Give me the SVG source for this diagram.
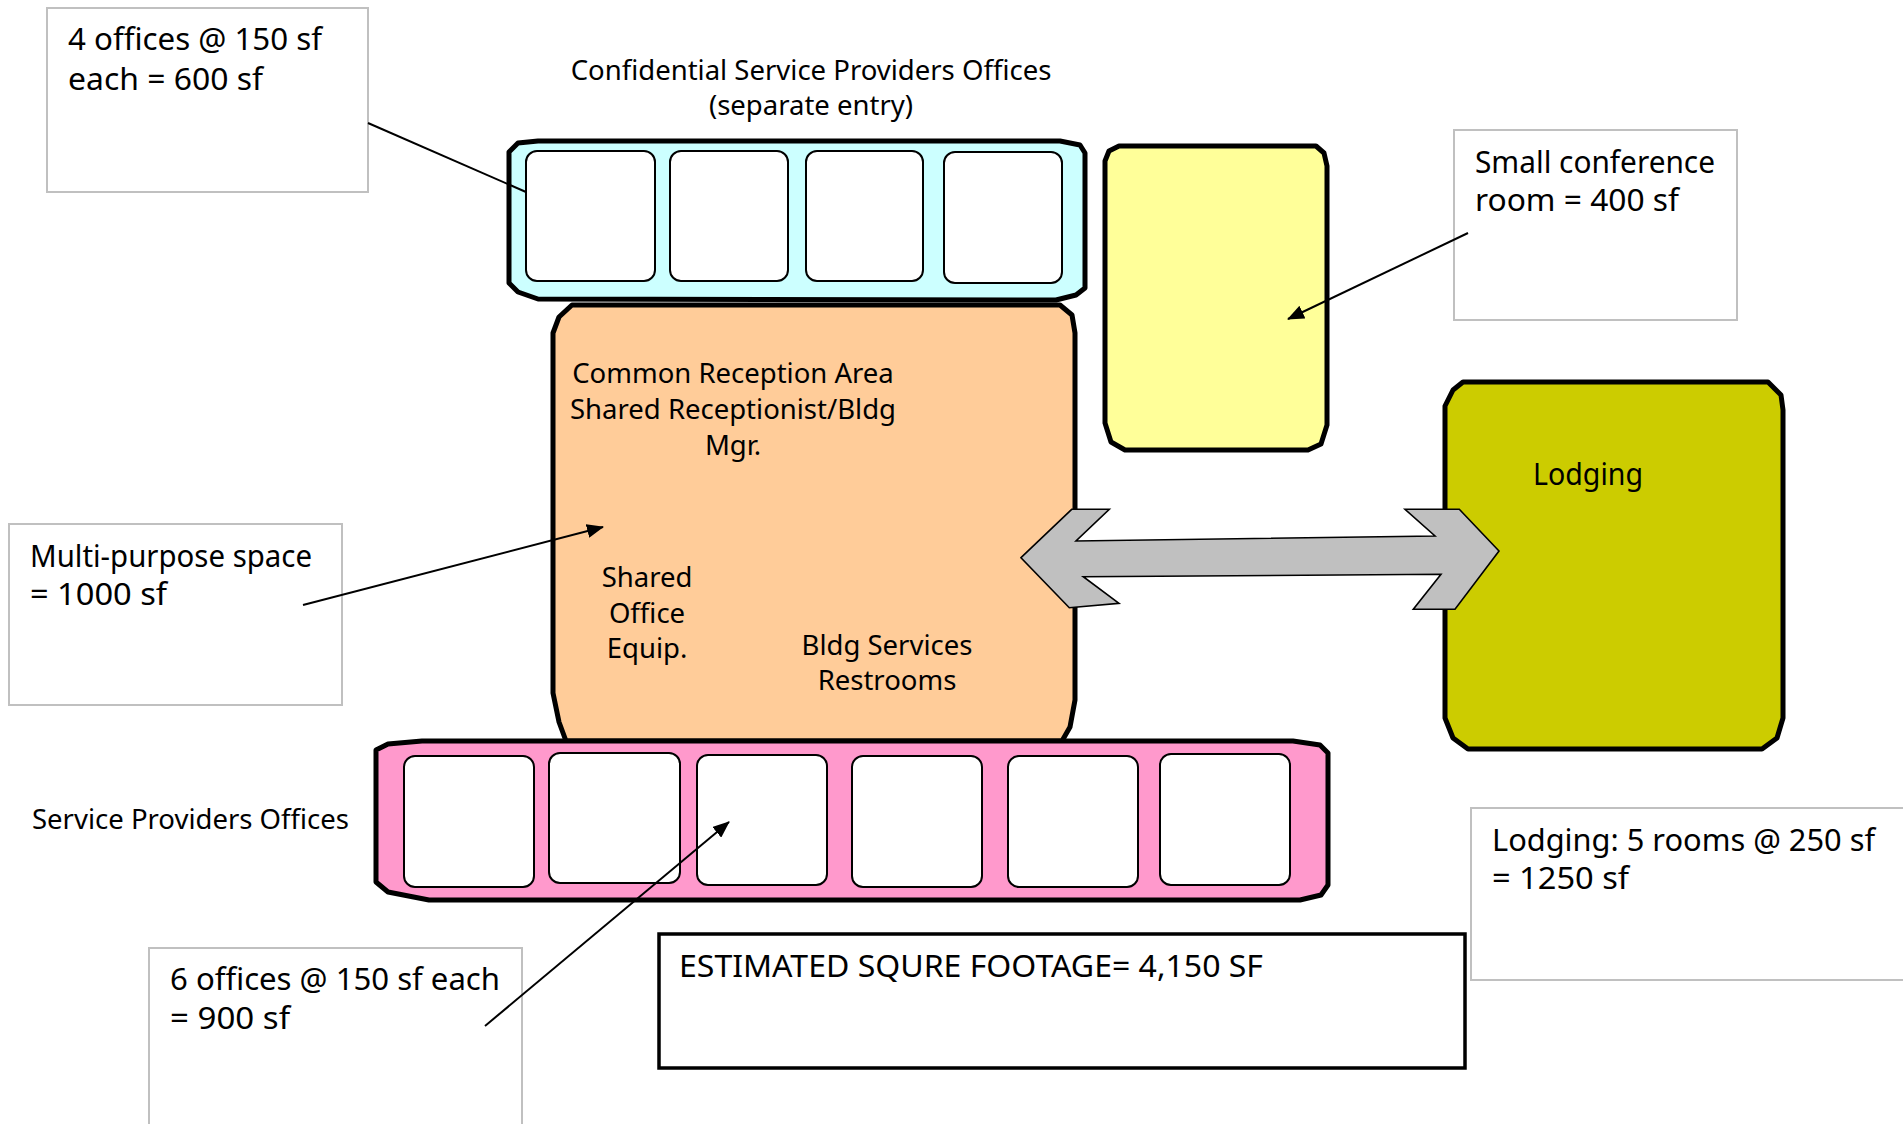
<svg xmlns="http://www.w3.org/2000/svg" width="1903" height="1124" viewBox="0 0 1903 1124">
<style>
  text { font-family: "Noto Sans", "DejaVu Sans", sans-serif; fill: #000; }
  .lbl { font-size: 31px; }
  .sm { font-size: 27.5px; }
  .note { fill: #ffffff; stroke: #c0c0c0; stroke-width: 2; }
  .room { stroke: #000; stroke-width: 5; stroke-linejoin: round; }
  .cell { fill: #ffffff; stroke: #000; stroke-width: 2; }
  .conn { stroke: #000; stroke-width: 2; fill: none; }
  .mid { text-anchor: middle; }
</style>
<defs>
  <marker id="ah" markerUnits="userSpaceOnUse" markerWidth="18" markerHeight="14" refX="16" refY="7" orient="auto">
    <path d="M0,0 L17,7 L0,14 Z" fill="#000"/>
  </marker>
</defs>
<rect width="1903" height="1124" fill="#ffffff"/>

<g id="title">
  <text class="sm mid" x="811" y="80">Confidential Service Providers Offices</text>
  <text class="sm mid" x="811" y="115">(separate entry)</text>
</g>

<g id="reception">
  <path class="room" fill="#ffcc99" d="M572,305 L1060,305 L1072,315 L1075,333 L1075,700 L1070,727 L1062,741 L566,741 L559,722 L553,693 L553,333 L559,317 Z"/>
  <text class="sm mid" x="733" y="383">Common Reception Area</text>
  <text class="sm mid" x="733" y="419">Shared Receptionist/Bldg</text>
  <text class="sm mid" x="733" y="455">Mgr.</text>
  <text class="sm mid" x="647" y="587">Shared</text>
  <text class="sm mid" x="647" y="623">Office</text>
  <text class="sm mid" x="647" y="658">Equip.</text>
  <text class="sm mid" x="887" y="655">Bldg Services</text>
  <text class="sm mid" x="887" y="690">Restrooms</text>
</g>

<g id="confidential-offices">
  <path class="room" fill="#ccffff" d="M538,141 L1060,141 L1080,145 L1085,153 L1085,288 L1076,295 L1056,300 L538,299 L518,292 L509,283 L509,152 L518,143 Z"/>
  <rect class="cell" x="526" y="151" width="129" height="130" rx="11"/>
  <rect class="cell" x="670" y="151" width="118" height="130" rx="11"/>
  <rect class="cell" x="806" y="151" width="117" height="130" rx="11"/>
  <rect class="cell" x="944" y="152" width="118" height="131" rx="11"/>
</g>

<g id="service-offices">
  <path class="room" fill="#ff99cc" d="M422,741 L1293,741 L1320,745 L1328,753 L1328,885 L1321,895 L1300,900 L429,900 L388,892 L376,882 L376,750 L388,744 Z"/>
  <rect class="cell" x="404" y="756" width="130" height="131" rx="11"/>
  <rect class="cell" x="549" y="753" width="131" height="130" rx="11"/>
  <rect class="cell" x="697" y="755" width="130" height="130" rx="11"/>
  <rect class="cell" x="852" y="756" width="130" height="131" rx="11"/>
  <rect class="cell" x="1008" y="756" width="130" height="131" rx="11"/>
  <rect class="cell" x="1160" y="754" width="130" height="131" rx="11"/>
</g>

<g id="conference-room">
  <path class="room" fill="#ffff99" d="M1119,146 L1316,146 L1324,153 L1327,166 L1327,425 L1321,444 L1308,450 L1125,450 L1111,442 L1105,423 L1105,161 L1109,151 Z"/>
</g>

<g id="lodging">
  <path class="room" fill="#cccc00" d="M1463,382 L1768,382 L1781,395 L1783,410 L1783,718 L1777,738 L1762,749 L1468,749 L1453,738 L1445,718 L1445,406 L1453,390 Z"/>
  <text class="lbl mid" x="1588" y="485" textLength="110" lengthAdjust="spacingAndGlyphs">Lodging</text>
</g>

<g id="note-4offices">
  <rect class="note" x="47" y="8" width="321" height="184"/>
  <text class="lbl" x="68" y="50" textLength="254" lengthAdjust="spacingAndGlyphs">4 offices @ 150 sf</text>
  <text class="lbl" x="68" y="90" textLength="195" lengthAdjust="spacingAndGlyphs">each = 600 sf</text>
</g>

<g id="note-conference">
  <rect class="note" x="1454" y="130" width="283" height="190"/>
  <text class="lbl" x="1475" y="173" textLength="240" lengthAdjust="spacingAndGlyphs">Small conference</text>
  <text class="lbl" x="1475" y="211" textLength="204" lengthAdjust="spacingAndGlyphs">room = 400 sf</text>
</g>

<g id="note-multipurpose">
  <rect class="note" x="9" y="524" width="333" height="181"/>
  <text class="lbl" x="30" y="567" textLength="282" lengthAdjust="spacingAndGlyphs">Multi-purpose space</text>
  <text class="lbl" x="30" y="605" textLength="137" lengthAdjust="spacingAndGlyphs">= 1000 sf</text>
</g>

<g id="label-service">
  <text class="sm" x="32" y="829">Service Providers Offices</text>
</g>

<g id="note-6offices">
  <path class="note" d="M149,1126 L149,948 L522,948 L522,1126"/>
  <text class="lbl" x="170" y="990" textLength="330" lengthAdjust="spacingAndGlyphs">6 offices @ 150 sf each</text>
  <text class="lbl" x="170" y="1029" textLength="120" lengthAdjust="spacingAndGlyphs">= 900 sf</text>
</g>

<g id="note-lodging">
  <rect class="note" x="1471" y="808" width="440" height="172"/>
  <text class="lbl" x="1492" y="851" textLength="383" lengthAdjust="spacingAndGlyphs">Lodging: 5 rooms @ 250 sf</text>
  <text class="lbl" x="1492" y="889" textLength="137" lengthAdjust="spacingAndGlyphs">= 1250 sf</text>
</g>

<g id="estimate">
  <rect x="659" y="934" width="806" height="134" fill="#ffffff" stroke="#000" stroke-width="3.5"/>
  <text class="lbl" x="679" y="977" textLength="584" lengthAdjust="spacingAndGlyphs">ESTIMATED SQURE FOOTAGE= 4,150 SF</text>
</g>

<g id="connectors">
  <line class="conn" x1="368" y1="123" x2="526" y2="192"/>
  <line class="conn" x1="1468" y1="233" x2="1288" y2="319" marker-end="url(#ah)"/>
  <line class="conn" x1="303" y1="605" x2="603" y2="527" marker-end="url(#ah)"/>
  <line class="conn" x1="485" y1="1026" x2="729" y2="822" marker-end="url(#ah)"/>
  <polygon fill="#c0c0c0" stroke="#000" stroke-width="1.6" stroke-linejoin="miter" points="1021,557.7 1071.7,509.3 1109.3,509.3 1076,541 1435,536 1405,509.3 1459.3,509.3 1499,551 1455,609.3 1413.3,609.3 1441,574.3 1083.3,576.7 1119,603.3 1069.3,607.7"/>
</g>
</svg>
